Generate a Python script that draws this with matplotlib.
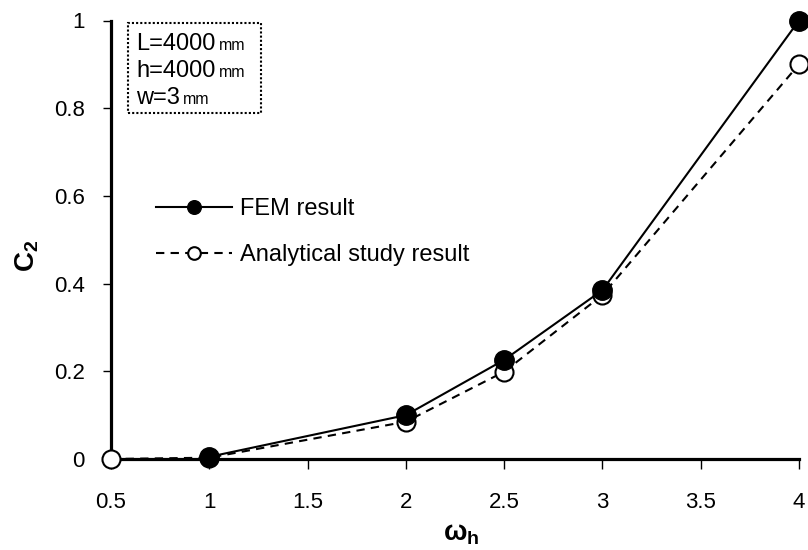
import matplotlib
matplotlib.use('Agg')
import matplotlib.pyplot as plt
from matplotlib.patches import Rectangle

plt.rcParams['font.family'] = ['Liberation Sans', 'DejaVu Sans']
plt.rcParams['mathtext.fontset'] = 'custom'
plt.rcParams['mathtext.rm'] = 'Liberation Sans'
plt.rcParams['mathtext.bf'] = 'Liberation Sans:bold'

# data
fem_x = [1, 2, 2.5, 3, 4]
fem_y = [0.005, 0.100, 0.226, 0.385, 1.0]
ana_x = [0.5, 1, 2, 2.5, 3, 4]
ana_y = [0.0, 0.003, 0.085, 0.199, 0.374, 0.90]

x_ticks = [0.5, 1, 1.5, 2, 2.5, 3, 3.5, 4]
x_labels = ['0.5', '1', '1.5', '2', '2.5', '3', '3.5', '4']
y_ticks = [0, 0.2, 0.4, 0.6, 0.8, 1]
y_labels = ['0', '0.2', '0.4', '0.6', '0.8', '1']

box_lines = [('L=4000', 'mm'), ('h=4000', 'mm'), ('w=3', 'mm')]

W, H = 808, 550
fig = plt.figure(figsize=(W / 100, H / 100), dpi=100)
ax = fig.add_axes([111 / W, 91 / H, 688 / W, 438.5 / H])

ax.plot(fem_x, fem_y, '-', color='black', lw=1.5, marker='o', ms=14,
        mfc='black', mec='black', clip_on=False, zorder=4, label='FEM result')
ax.plot(ana_x, ana_y, '--', color='black', lw=1.5, dashes=(4, 3), marker='o', ms=13,
        mfc='white', mec='black', mew=1.5, clip_on=False, zorder=3,
        label='Analytical study result')

ax.set_xlim(0.5, 4)
ax.set_ylim(0, 1)
ax.set_xticks(x_ticks)
ax.set_xticklabels(x_labels)
ax.set_yticks(y_ticks)
ax.set_yticklabels(y_labels)
ax.tick_params(direction='out', width=1, labelsize=16)
ax.tick_params(axis='x', length=7, pad=17)
ax.tick_params(axis='y', length=6, pad=13)

for s in ['top', 'right']:
    ax.spines[s].set_visible(False)
for s in ['left', 'bottom']:
    ax.spines[s].set_linewidth(2.3)

# axis titles
fig.text(27 / W, 1 - 256 / H, r'$\mathbf{C}_\mathbf{2}$', fontsize=20,
         rotation=90, ha='center', va='center')
fig.text(461 / W, 1 - 534 / H, r'$\mathbf{\omega}_\mathbf{h}$', fontsize=20,
         ha='center', va='center')

ax.legend(loc='center left', bbox_to_anchor=(156 / W, 1 - 232 / H),
          bbox_transform=fig.transFigure, frameon=False, borderpad=0,
          borderaxespad=0, fontsize=17, handlelength=3.2, handletextpad=0.35,
          labelspacing=1.0, numpoints=1, markerscale=0.7)

# info box
fig.patches.append(Rectangle((128 / W, 1 - 113 / H), 133 / W, 90 / H,
                             transform=fig.transFigure, fill=False,
                             ls=(0, (1, 1)), lw=1.5, ec='black'))
for i, (main, unit) in enumerate(box_lines):
    yb = 1 - (50 + 27 * i) / H
    t = fig.text(136.5 / W, yb, main, fontsize=17, va='baseline', ha='left')
    fig.canvas.draw()
    bb = t.get_window_extent()
    fig.text((bb.x1 + 3) / W, yb, unit, fontsize=11.5, va='baseline', ha='left')

fig.savefig('out.png', dpi=100)
